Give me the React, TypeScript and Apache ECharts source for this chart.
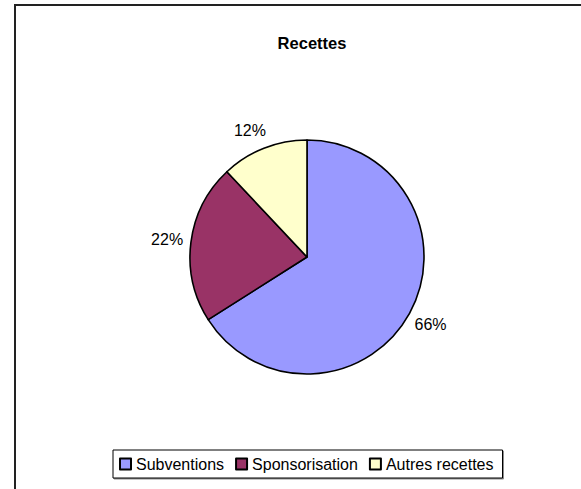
import React, { useEffect, useRef } from "react";
import * as echarts from "echarts";

const title = "Recettes";
const categories = ["Subventions", "Sponsorisation", "Autres recettes"];
const values = [66, 22, 12];
const colors = ["#9999FF", "#993366", "#FFFFCC"];

export default function App() {
  const ref = useRef<HTMLDivElement>(null);
  useEffect(() => {
    document.body.style.margin = "0";
    const chart = echarts.init(ref.current!, null, { renderer: "svg" });
    const font = "'Liberation Sans', Arial, sans-serif";
    chart.setOption({
      animation: false,
      backgroundColor: "#ffffff",
      graphic: [
        {
          type: "rect",
          shape: { x: 15, y: 5, width: 620, height: 520 },
          style: { fill: "none", stroke: "#222", lineWidth: 2 },
          z: -1,
        },
      ],
      title: {
        text: title,
        left: 307,
        top: 29,
        textAlign: "center",
        textStyle: { fontFamily: font, fontSize: 16.5, fontWeight: "bold", color: "#000" },
      },
      legend: {
        data: categories,
        left: 113,
        top: 450,
        orient: "horizontal",
        icon: "rect",
        itemWidth: 11,
        itemHeight: 11,
        itemGap: 11,
        padding: [6, 9, 6, 6],
        borderColor: "#000",
        borderWidth: 1,
        shadowColor: "rgba(0,0,0,0.45)",
        shadowOffsetX: 1,
        shadowOffsetY: 1,
        shadowBlur: 0,
        backgroundColor: "#fff",
        textStyle: { fontFamily: font, fontSize: 16, color: "#000" },
      },
      series: [
        {
          type: "pie",
          center: [307, 257],
          radius: 117,
          startAngle: 90,
          clockwise: true,
          data: categories.map((name, i) => ({
            name,
            value: values[i],
            itemStyle: { color: colors[i] },
            ...(i === 2
              ? { label: { distanceToLabelLine: -9 }, labelLine: { length: 19 } }
              : {}),
          })),
          itemStyle: { borderColor: "#000", borderWidth: 1.6 },
          label: {
            show: true,
            position: "outside",
            formatter: "{d}%",
            fontFamily: font,
            fontSize: 16,
            color: "#000",
            distanceToLabelLine: -16,
          },
          labelLine: { show: false, length: 24, length2: 0 },
          emphasis: { disabled: true },
        },
      ],
    });
    return () => chart.dispose();
  }, []);
  return <div ref={ref} style={{ width: 581, height: 489 }} />;
}
